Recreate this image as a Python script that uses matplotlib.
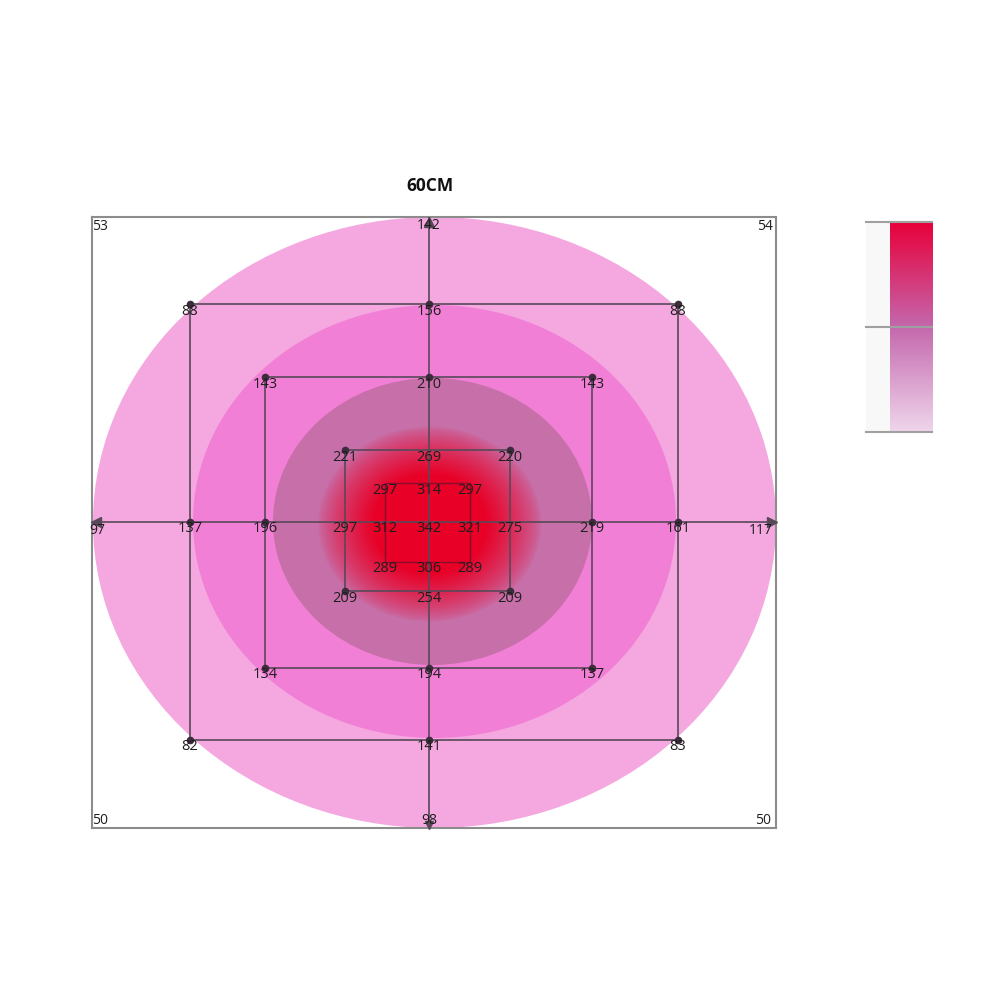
import numpy as np
import matplotlib.pyplot as plt
from matplotlib.patches import Ellipse, Rectangle
from matplotlib.colors import LinearSegmentedColormap, to_rgb

plt.rcParams['font.family'] = ['Open Sans', 'DejaVu Sans']

title = "60CM"

# readings per ring: top-left, top, top-right, left, right, bottom-left, bottom, bottom-right
ring_outer = [88, 156, 88, 137, 161, 82, 141, 83]
ring_middle = [143, 210, 143, 196, 219, 134, 194, 137]
ring_inner = [221, 269, 220, 297, 275, 209, 254, 209]
ring_core = [297, 314, 297, 312, 321, 289, 306, 289]
center_value = 342
edge_values = [142, 98, 97, 117]      # top, bottom, left, right
corner_values = [53, 54, 50, 50]      # top-left, top-right, bottom-left, bottom-right

rings = [ring_outer, ring_middle, ring_inner, ring_core]

# --- layout (offsets from the centre, px) ---
ring_box = [(-239, 249, 218, -218), (-164, 163, 145, -146),
            (-84, 81, 72, -69), (-44, 41, 39, -40)]
edge_pos = [(0, 297), (0, -298), (-332, -8), (332, -9)]
corner_pos = [(-329, 296), (336, 296), (-329, -299), (334, -298)]
zones = [((5.5, -0.5), 683, 611, '#f5a8e0'),
         ((5.5, 0.5), 483, 433, '#f27fd6'),
         ((3.5, 0.5), 319, 287, '#c76fa8')]

fig = plt.figure(figsize=(10, 10), dpi=100)
ax = fig.add_axes([0.092, 0.172, 0.684, 0.611])
ax.set_xlim(-337, 347)
ax.set_ylim(-306, 305)
ax.set_xticks([])
ax.set_yticks([])
for s in ax.spines.values():
    s.set_color('#8c8c8c')
    s.set_linewidth(1.5)

for (c, w, h, col) in zones:
    ax.add_patch(Ellipse(c, w, h, facecolor=col, edgecolor='none', zorder=1))

# red hot spot, blended into the mauve zone
gx = np.linspace(-125, 125, 500)
gy = np.linspace(-115, 115, 500)
X, Y = np.meshgrid(gx, gy)
r = np.sqrt(((X - 1) / 112) ** 2 + ((Y + 2) / 98) ** 2)
a = np.clip((1.0 - r) / 0.5, 0, 1) ** 0.75
red = np.array([232, 0, 38]) / 255
mauve = np.array(to_rgb('#c76fa8'))
img = np.zeros((500, 500, 4))
img[..., :3] = a[..., None] * red + (1 - a[..., None]) * mauve
img[..., 3] = (r < 1.0).astype(float)
ax.imshow(img, extent=(-125, 125, -115, 115), origin='lower', zorder=2,
          interpolation='nearest', aspect='auto')

# axis lines with arrows
line_col = '#584858'
ax.plot([-337, 347], [0, 0], color=line_col, lw=1.2, zorder=3)
ax.plot([0, 0], [-306, 305], color=line_col, lw=1.2, zorder=3)
ax.plot(0, 300, marker='^', color=line_col, ms=7, zorder=4, clip_on=False)
ax.plot(343, 0, marker='>', color=line_col, ms=7, zorder=4, clip_on=False)
ax.plot(-333, 0, marker='<', color=line_col, ms=7, zorder=4, clip_on=False)
ax.plot(0, -303, marker='v', color=line_col, ms=6, zorder=4, clip_on=False)

for i, (vals, (l, rr, t, b)) in enumerate(zip(rings, ring_box)):
    if i < 3:
        ax.add_patch(Rectangle((l, b), rr - l, t - b, fill=False,
                               edgecolor=line_col, lw=1.2, zorder=3))
    else:
        ax.add_patch(Rectangle((l, b), rr - l, t - b, fill=False,
                               edgecolor='#7a1030', lw=1.0, alpha=0.85, zorder=3))
    pts = [(l, t), (0, t), (rr, t), (l, 0), (rr, 0), (l, b), (0, b), (rr, b)]
    for k, ((px, py), v) in enumerate(zip(pts, vals)):
        if i < 2 or (i == 2 and k in (0, 2, 5, 7)):
            ax.plot(px, py, 'o', color='#3c2c3c', ms=4.5, zorder=4)
        ax.text(px, py - 7, str(v), ha='center', va='center', fontsize=10.5,
                color='#1e1e1e', zorder=5)

ax.text(0, -7, str(center_value), ha='center', va='center', fontsize=10.5,
        color='#1e1e1e', zorder=5)
for (px, py), v in zip(edge_pos, edge_values):
    ax.text(px, py, str(v), ha='center', va='center', fontsize=10,
            color='#1e1e1e', zorder=5, clip_on=False)
for (px, py), v in zip(corner_pos, corner_values):
    ax.text(px, py, str(v), ha='center', va='center', fontsize=10,
            color='#1e1e1e', zorder=5)

fig.text(0.430, 0.814, title, ha='center', va='center', fontsize=12.5,
         fontweight='bold', color='#111111')

# legend bar
cax = fig.add_axes([0.866, 0.568, 0.066, 0.21])
cax.set_xlim(0, 1)
cax.set_ylim(0, 1)
cax.axis('off')
cmap = LinearSegmentedColormap.from_list(
    'bar', ['#efd6ec', '#c468ad', '#e8003a'])
grad = np.linspace(0, 1, 256).reshape(-1, 1)
cax.add_patch(Rectangle((0, 0), 0.36, 1, facecolor='#f8f8f8', edgecolor='none'))
cax.imshow(grad, extent=(0.36, 1, 0, 1), origin='lower', cmap=cmap, aspect='auto')
for yy in [0, 0.5, 1]:
    cax.plot([0, 1], [yy, yy], color='#a0a0a0', lw=1.5, clip_on=False)

fig.savefig('out.png', dpi=100, facecolor='white')
